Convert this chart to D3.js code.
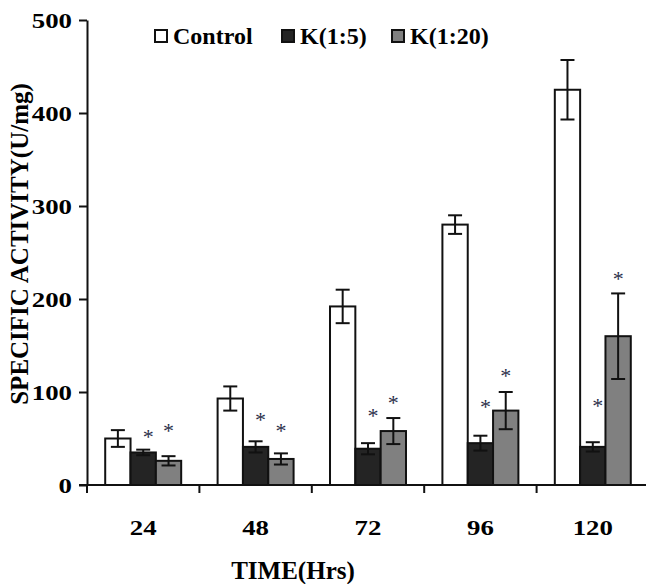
<!DOCTYPE html>
<html>
<head>
<meta charset="utf-8">
<script src="https://cdn.jsdelivr.net/npm/d3@7"></script>
<style>
  body { margin: 0; background: #fff; }
  text { font-family: "Liberation Serif", "Times New Roman", serif; font-weight: bold; fill: #000; }
</style>
</head>
<body>
<div id="wrapper"></div>
<script>
// data
const hours = ["24", "48", "72", "96", "120"]
const seriesNames = ["Control", "K(1:5)", "K(1:20)"]
const controlMean = [50, 93, 192, 280, 425]
const controlErr = [9, 13, 18, 10, 32]
const k5Mean = [35, 41, 39, 45, 41]
const k5Err = [3, 6, 6, 8, 5]
const k20Mean = [26, 28, 58, 80, 160]
const k20Err = [5, 6, 14, 20, 46]
// height (in U/mg) at which each significance star is printed
const k5Star = [56, 74, 79, 88, 89]
const k20Star = [62, 62, 93, 121, 226]
const yTicks = [0, 100, 200, 300, 400, 500]

function drawChart() {
  const series = [
    { name: seriesNames[0], mean: controlMean, err: controlErr, star: null, fill: "#ffffff", starShift: 0 },
    { name: seriesNames[1], mean: k5Mean, err: k5Err, star: k5Star, fill: "#242424", starShift: 5 },
    { name: seriesNames[2], mean: k20Mean, err: k20Err, star: k20Star, fill: "#808080", starShift: 0 },
  ]

  let dimensions = {
    width: 646,
    height: 584,
    margin: { top: 20, right: -3, bottom: 99, left: 87 },
  }
  dimensions.boundedWidth = dimensions.width - dimensions.margin.left - dimensions.margin.right
  dimensions.boundedHeight = dimensions.height - dimensions.margin.top - dimensions.margin.bottom

  const wrapper = d3.select("#wrapper")
    .append("svg")
      .attr("width", dimensions.width)
      .attr("height", dimensions.height)
      .style("display", "block")

  const bounds = wrapper.append("g")
      .attr("transform", `translate(${dimensions.margin.left}, ${dimensions.margin.top})`)

  // scales
  const xScale = d3.scaleBand()
    .domain(hours)
    .range([0, dimensions.boundedWidth])
    .padding(0)

  const bw = xScale.bandwidth()
  const xInner = d3.scaleBand()
    .domain(seriesNames)
    .range([bw * 0.162, bw * 0.838])
    .padding(0)

  const yScale = d3.scaleLinear()
    .domain([0, 500])
    .range([dimensions.boundedHeight, 0])

  // bars
  const groups = bounds.selectAll(".series")
      .data(series)
    .enter().append("g")
      .attr("class", "series")

  groups.selectAll("rect")
      .data(s => s.mean.map((v, i) => ({ s, v, i })))
    .enter().append("rect")
      .attr("x", d => xScale(hours[d.i]) + xInner(d.s.name))
      .attr("width", xInner.bandwidth())
      .attr("y", d => yScale(d.v))
      .attr("height", d => yScale(0) - yScale(d.v))
      .attr("fill", d => d.s.fill)
      .attr("stroke", "#111")
      .attr("stroke-width", 2)

  // error bars
  const capHalf = 7
  const errs = groups.selectAll(".err")
      .data(s => s.mean.map((v, i) => ({ s, v, e: s.err[i], i })))
    .enter().append("g")
      .attr("class", "err")
      .attr("transform", d => `translate(${xScale(hours[d.i]) + xInner(d.s.name) + xInner.bandwidth() / 2}, 0)`)
      .attr("stroke", "#111")
      .attr("stroke-width", 2)

  errs.append("line")
      .attr("x1", 0).attr("x2", 0)
      .attr("y1", d => yScale(d.v + d.e))
      .attr("y2", d => yScale(d.v - d.e))
  errs.append("line")
      .attr("x1", -capHalf).attr("x2", capHalf)
      .attr("y1", d => yScale(d.v + d.e))
      .attr("y2", d => yScale(d.v + d.e))
  errs.append("line")
      .attr("x1", -capHalf).attr("x2", capHalf)
      .attr("y1", d => yScale(d.v - d.e))
      .attr("y2", d => yScale(d.v - d.e))

  // significance stars
  groups.filter(s => s.star).selectAll(".star")
      .data(s => s.star.map((v, i) => ({ s, v, i })))
    .enter().append("text")
      .attr("class", "star")
      .attr("x", d => xScale(hours[d.i]) + xInner(d.s.name) + xInner.bandwidth() / 2 + d.s.starShift)
      .attr("y", d => yScale(d.v) + 11)
      .attr("text-anchor", "middle")
      .style("font-size", "22px")
      .style("font-weight", "normal")
      .style("fill", "#2b2f4a")
      .text("*")

  // y axis
  const yAxis = bounds.append("g")
      .call(d3.axisLeft(yScale).tickValues(yTicks).tickSize(8).tickSizeOuter(0).tickPadding(0))
  yAxis.select(".domain").attr("stroke", "#111").attr("stroke-width", 2)
  yAxis.selectAll(".tick line").attr("stroke", "#111").attr("stroke-width", 2)
  yAxis.selectAll(".tick text")
      .attr("x", -15 / 1.22)
      .attr("dy", "0.34em")
      .attr("transform", "scale(1.22,1)")
      .style("font-size", "22px")
      .style("font-family", null)
  yAxis.attr("font-family", null).attr("font-size", null)

  // x axis: line, ticks at band edges, labels at band centres
  const xAxis = bounds.append("g")
      .attr("transform", `translate(0, ${dimensions.boundedHeight})`)
  xAxis.append("line")
      .attr("x1", -8)
      .attr("x2", dimensions.boundedWidth)
      .attr("stroke", "#111")
      .attr("stroke-width", 2)
  xAxis.selectAll(".x-tick")
      .data(hours)
    .enter().append("line")
      .attr("class", "x-tick")
      .attr("x1", d => xScale(d))
      .attr("x2", d => xScale(d))
      .attr("y1", 0)
      .attr("y2", 8)
      .attr("stroke", "#111")
      .attr("stroke-width", 2)
  xAxis.selectAll(".x-label")
      .data(hours)
    .enter().append("text")
      .attr("class", "x-label")
      .attr("transform", d => `translate(${xScale(d) + bw / 2}, 50) scale(1.22,1)`)
      .attr("text-anchor", "middle")
      .style("font-size", "22px")
      .text(d => d)

  // axis titles
  wrapper.append("text")
      .attr("x", 293)
      .attr("y", 579)
      .attr("text-anchor", "middle")
      .style("font-size", "25px")
      .text("TIME(Hrs)")

  wrapper.append("text")
      .attr("transform", "translate(28, 244) rotate(-90)")
      .attr("text-anchor", "middle")
      .style("font-size", "25px")
      .text("SPECIFIC ACTIVITY(U/mg)")

  // legend
  const legendX = [155, 282, 392]
  const legend = wrapper.selectAll(".legend")
      .data(series)
    .enter().append("g")
      .attr("class", "legend")
      .attr("transform", (d, i) => `translate(${legendX[i]}, 30)`)
  legend.append("rect")
      .attr("width", 12)
      .attr("height", 12)
      .attr("fill", d => d.fill)
      .attr("stroke", "#111")
      .attr("stroke-width", 2)
  legend.append("text")
      .attr("x", 18)
      .attr("y", 14)
      .style("font-size", "24px")
      .text(d => d.name)
}
drawChart()
</script>
</body>
</html>
